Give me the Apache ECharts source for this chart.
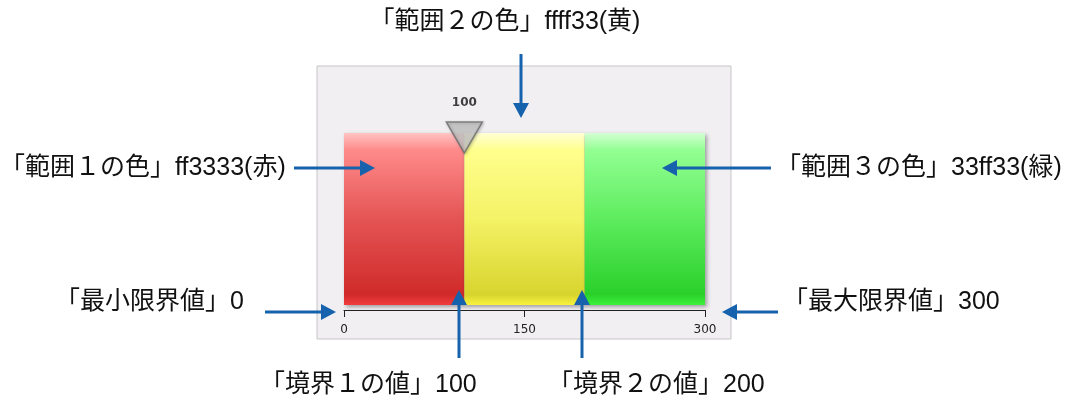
<!DOCTYPE html>
<html>
<head>
<meta charset="utf-8">
<script src="https://cdn.jsdelivr.net/npm/echarts@6/dist/echarts.min.js"></script>
<style>
  html, body { margin: 0; padding: 0; background: #fff; }
  #chart { width: 1078px; height: 403px; }
</style>
</head>
<body>
<div id="chart"></div>
<script>
// gauge data
var rangeNames = ['範囲1', '範囲2', '範囲3'];
var rangeBounds = [0, 100, 200, 300];
var axisMin = 0, axisMax = 300, axisStep = 150;
var pointerValue = 100;

// vertical gradients for each range (top -> bottom)
var rangeGrad = [
  ['#ffc4c4', '#ff8a8a', '#e45454', '#d02a2a', '#f23c3c'],
  ['#ffffd6', '#ffff8c', '#f4f266', '#d8d42e', '#f8f23c'],
  ['#d4ffd4', '#92ff92', '#5eec5e', '#2ad02a', '#3cf23c']
];

var blue = '#1662ad';
var jpFont = '"Liberation Sans", "Noto Sans CJK JP", sans-serif';

function grad(c) {
  return new echarts.graphic.LinearGradient(0, 0, 0, 1, [
    { offset: 0, color: c[0] },
    { offset: 0.1, color: c[1] },
    { offset: 0.5, color: c[2] },
    { offset: 0.94, color: c[3] },
    { offset: 1, color: c[4] }
  ]);
}

var barSeries = rangeNames.map(function (name, i) {
  return {
    name: name,
    type: 'bar',
    stack: 'gauge',
    barWidth: '100%',
    xAxisIndex: 0,
    yAxisIndex: 0,
    data: [rangeBounds[i + 1] - rangeBounds[i]],
    itemStyle: {
      color: grad(rangeGrad[i]),
      shadowColor: 'rgba(0,0,0,0.35)',
      shadowBlur: 4,
      shadowOffsetX: 2,
      shadowOffsetY: 2
    },
    silent: true
  };
});

// arrow helper: shaft from (x1,y1) to tip (x2,y2)
function arrow(x1, y1, x2, y2) {
  var dx = x2 - x1, dy = y2 - y1;
  var len = Math.sqrt(dx * dx + dy * dy);
  var ux = dx / len, uy = dy / len;
  var hl = 15, hw = 8;
  var bx = x2 - ux * hl, by = y2 - uy * hl;
  return [
    { type: 'line', z: 100, shape: { x1: x1, y1: y1, x2: bx, y2: by }, style: { stroke: blue, lineWidth: 3 } },
    { type: 'polygon', z: 100, shape: { points: [[x2, y2], [bx - uy * hw, by + ux * hw], [bx + uy * hw, by - ux * hw]] }, style: { fill: blue } }
  ];
}

function label(text, x, y, align) {
  return {
    type: 'text', x: x, y: y, z: 100,
    style: { text: text, font: '25px ' + jpFont, fill: '#111', align: align || 'left', verticalAlign: 'middle' }
  };
}

var graphics = [
  { type: 'rect', z: -10, shape: { x: 317, y: 66, width: 414, height: 273 }, style: { fill: '#f1eff2', stroke: '#c8c6c8', lineWidth: 1 } },
  label('「範囲２の色」ffff33(黄)', 505, 22, 'center'),
  label('「範囲１の色」ff3333(赤)', 0, 168),
  label('「範囲３の色」33ff33(緑)', 776, 168),
  label('「最小限界値」0', 55, 302),
  label('「最大限界値」300', 783, 302),
  label('「境界１の値」100', 260, 385),
  label('「境界２の値」200', 548, 385)
]
  .concat(arrow(521, 54, 521, 118))
  .concat(arrow(294, 168, 375, 168))
  .concat(arrow(771, 168, 662, 168))
  .concat(arrow(265, 312, 336, 312))
  .concat(arrow(778, 312, 722, 312))
  .concat(arrow(459, 358, 459, 290))
  .concat(arrow(582, 358, 582, 290));

var option = {
  animation: false,
  backgroundColor: '#ffffff',
  grid: [
    { left: 344, top: 133, width: 361, height: 172, containLabel: false },
    { left: 344, top: 122, width: 361, height: 31, containLabel: false }
  ],
  xAxis: [
    {
      type: 'value', gridIndex: 0, min: axisMin, max: axisMax, interval: axisStep,
      offset: 5,
      axisLine: { show: true, lineStyle: { color: '#222', width: 1 } },
      axisTick: { show: true, length: 7, lineStyle: { color: '#222' } },
      axisLabel: { show: true, color: '#222', fontSize: 12, fontFamily: 'DejaVu Sans', margin: 14 },
      splitLine: { show: false }
    },
    {
      type: 'value', gridIndex: 1, min: axisMin, max: axisMax, show: false
    }
  ],
  yAxis: [
    { type: 'category', gridIndex: 0, data: ['gauge'], show: false },
    { type: 'value', gridIndex: 1, min: 0, max: 1, show: false }
  ],
  series: barSeries.concat([
    {
      type: 'scatter',
      xAxisIndex: 1,
      yAxisIndex: 1,
      z: 5,
      data: [[pointerValue, 0.5]],
      symbol: 'triangle',
      symbolRotate: 180,
      symbolSize: [36, 31],
      itemStyle: {
        color: '#c6c6c6',
        borderColor: '#6a6a6a',
        borderWidth: 1.5,
        shadowColor: 'rgba(0,0,0,0.25)',
        shadowBlur: 3,
        shadowOffsetX: 1,
        shadowOffsetY: 1
      },
      label: {
        show: true,
        position: 'top',
        distance: 12,
        formatter: function (p) { return String(p.value[0]); },
        color: '#111',
        fontSize: 12,
        fontWeight: 'bold',
        fontFamily: 'DejaVu Sans'
      },
      silent: true
    }
  ]),
  graphic: graphics
};

var chart = echarts.init(document.getElementById('chart'), null, { renderer: 'canvas' });
chart.setOption(option);
</script>
</body>
</html>
